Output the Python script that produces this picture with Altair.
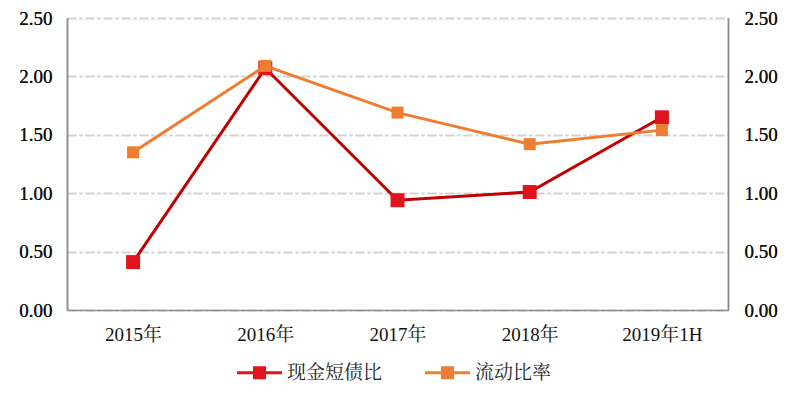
import altair as alt
import pandas as pd

years = ["2015年", "2016年", "2017年", "2018年", "2019年1H"]
cash_ratio = [0.41, 2.07, 0.94, 1.01, 1.65]
current_ratio = [1.35, 2.09, 1.69, 1.42, 1.54]
series_names = ["现金短债比", "流动比率"]
y_ticks = [0, 0.5, 1.0, 1.5, 2.0, 2.5]

rows = []
for i, yr in enumerate(years):
    rows.append({"year": yr, "series": series_names[0], "value": cash_ratio[i]})
    rows.append({"year": yr, "series": series_names[1], "value": current_ratio[i]})
df = pd.DataFrame(rows)

FONT = "Liberation Serif, 'Noto Serif CJK SC', 'Noto Sans CJK SC', serif"

x = alt.X("year:N", sort=years, scale=alt.Scale(type="point", padding=0.5),
          axis=alt.Axis(title=None, labelAngle=0, ticks=False, grid=False,
                        domainColor="#8c8c8c", domainWidth=1.5,
                        labelFont=FONT, labelFontSize=19, labelColor="#111",
                        labelPadding=15))

yscale = alt.Scale(domain=[0, 2.5], nice=False)
y_left = alt.Y("value:Q", scale=yscale,
               axis=alt.Axis(title=None, orient="left", values=y_ticks, format=".2f",
                             ticks=False, grid=True, gridColor="#d0d0d0", gridWidth=1.5,
                             gridDash=[9, 3, 3, 3], domainColor="#8c8c8c", domainWidth=1.5,
                             labelFont=FONT, labelFontSize=19, labelColor="#111",
                             labelPadding=15))
y_right = alt.Y("value:Q", scale=yscale,
                axis=alt.Axis(title=None, orient="right", values=y_ticks, format=".2f",
                              ticks=False, grid=False, domainColor="#8c8c8c", domainWidth=1.5,
                              labelFont=FONT, labelFontSize=19, labelColor="#111",
                              labelPadding=16))

line_colors = ["#c00000", "#ed7d31"]
marker_colors = ["#e0141e", "#ed7d31"]
marker_sizes = [196, 144]

legend_path = "M-1,-0.067L1,-0.067L1,0.067L-1,0.067Z M-0.29,-0.29L0.29,-0.29L0.29,0.29L-0.29,0.29Z"

color = alt.Color("series:N", sort=series_names,
                  scale=alt.Scale(domain=series_names, range=marker_colors),
                  legend=alt.Legend(title=None, orient="none", legendX=170, legendY=332,
                                    direction="horizontal", symbolType=legend_path,
                                    symbolSize=2025, symbolStrokeWidth=0,
                                    labelFont=FONT, labelFontSize=19, labelColor="#222",
                                    labelOffset=5, columnPadding=42))

base = alt.Chart(df)
layers = []
for i, s in enumerate(series_names):
    sub = base.transform_filter(alt.datum.series == s)
    yy = y_left if i == 0 else y_right
    line = sub.mark_line(strokeWidth=3, color=line_colors[i]).encode(x=x, y=yy)
    pts = sub.mark_point(shape="square", filled=True, opacity=1, size=marker_sizes[i]).encode(
        x=x, y=yy, color=color)
    layers += [line, pts]

chart = alt.layer(*layers).resolve_scale(y="shared").resolve_axis(y="independent").properties(
    width=661, height=292,
    autosize=alt.AutoSizeParams(type="none"),
    padding={"left": 59, "top": 10, "right": 60, "bottom": 72},
    background="white",
).configure_view(stroke=None)

chart.save("out.html", embed_options={"renderer": "svg", "actions": False})
